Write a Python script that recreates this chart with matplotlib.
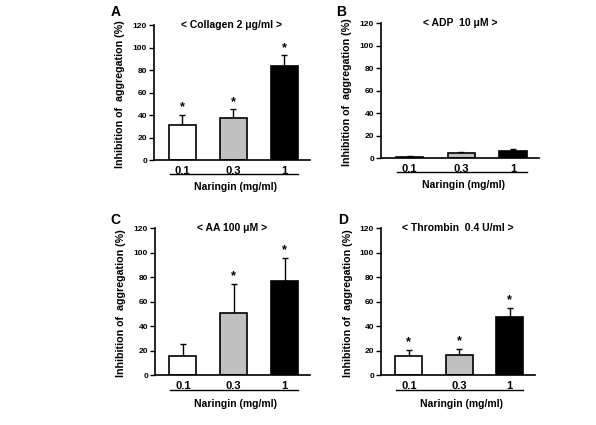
import numpy as np
import matplotlib.pyplot as plt
from matplotlib.lines import Line2D

plt.rcParams['font.family'] = ['Liberation Sans', 'DejaVu Sans']

# Datos
dosis = ['0.1', '0.3', '1']
colores = ['white', '#c0c0c0', 'black']

titulos = ['< Collagen 2 \u03bcg/ml >', '< ADP  10 \u03bcM >',
           '< AA 100 \u03bcM >', '< Thrombin  0.4 U/ml >']
letras = ['A', 'B', 'C', 'D']

media_a = [31, 37, 84]
error_a = [9, 8, 9]
sig_a = [True, True, True]

media_b = [1, 4.5, 6]
error_b = [0.5, 0.8, 2]
sig_b = [False, False, False]

media_c = [15.5, 51, 76.5]
error_c = [10, 23, 19]
sig_c = [False, True, True]

media_d = [15.5, 16.5, 47]
error_d = [5, 5, 8]
sig_d = [True, True, True]

medias = [media_a, media_b, media_c, media_d]
errores = [error_a, error_b, error_c, error_d]
sigs = [sig_a, sig_b, sig_c, sig_d]

# posiciones de los ejes (fraccion de figura)
posiciones = [
    [0.2584, 0.6235, 0.2617, 0.3176],
    [0.6393, 0.6282, 0.2650, 0.3176],
    [0.2600, 0.1176, 0.2600, 0.3459],
    [0.6393, 0.1176, 0.2584, 0.3459],
]
pos_letras = [(0.185, 0.972), (0.564, 0.972), (0.185, 0.482), (0.567, 0.482)]

fig = plt.figure(figsize=(5.96, 4.25), dpi=100)
x = np.arange(len(dosis))

for i in range(4):
    ax = fig.add_axes(posiciones[i])
    ax.bar(x, medias[i], width=0.53, color=colores, edgecolor='black',
           linewidth=1.2, zorder=2)
    ax.errorbar(x, medias[i], yerr=[np.zeros(3), errores[i]], fmt='none',
                ecolor='black', elinewidth=1.0, capsize=2.5, capthick=1.0,
                zorder=1)
    for j in range(3):
        if sigs[i][j]:
            ax.text(x[j], medias[i][j] + errores[i][j] + 1.5, '*',
                    ha='center', va='bottom', fontsize=9, fontweight='bold')

    ax.set_xlim(-0.55, 2.5)
    ax.set_ylim(0, 120)
    ax.set_yticks(np.arange(0, 121, 20))
    ax.set_xticks(x)
    ax.set_xticklabels(dosis, fontsize=8, fontweight='bold')
    ax.tick_params(axis='x', length=0, pad=4)
    ax.tick_params(axis='y', direction='out', length=3.5, width=1,
                   labelsize=6, pad=1.5)
    for t in ax.get_yticklabels():
        t.set_fontweight('bold')
    ax.spines['top'].set_visible(False)
    ax.spines['right'].set_visible(False)
    ax.spines['left'].set_linewidth(1.2)
    ax.spines['bottom'].set_linewidth(1.2)

    ax.set_ylabel('Inhibition of  aggregation (%)', fontsize=7.7,
                  fontweight='bold')
    ax.yaxis.set_label_coords(-0.185, 0.49)

    # subrayado y etiqueta de dosis
    ax.add_line(Line2D([0.10, 0.925], [-0.105, -0.105], transform=ax.transAxes,
                       color='black', linewidth=1.0, clip_on=False))
    ax.text(0.52, -0.2, 'Naringin (mg/ml)', transform=ax.transAxes,
            ha='center', va='center', fontsize=7.5, fontweight='bold')

    ax.text(0.5, 1.0, titulos[i], transform=ax.transAxes, ha='center',
            va='center', fontsize=7.5, fontweight='bold')
    fig.text(pos_letras[i][0], pos_letras[i][1], letras[i], ha='left',
             va='center', fontsize=10, fontweight='bold')

plt.savefig('out.png', dpi=100)
